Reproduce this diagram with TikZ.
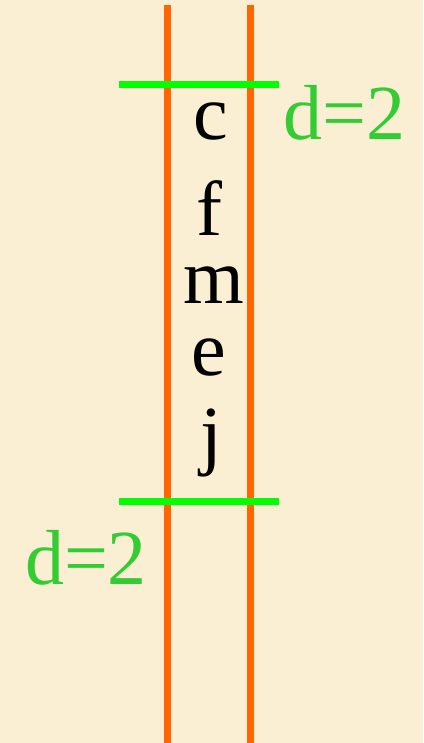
\documentclass[tikz,border=0pt]{standalone}
\usepackage{fontspec}
\setmainfont{Liberation Serif}
\usepackage{tikz}
\definecolor{paper}{RGB}{250, 239, 210}
\definecolor{rail}{RGB}{255, 102, 0}
\definecolor{cut}{RGB}{0, 255, 0}
\definecolor{cutlabel}{RGB}{51, 204, 51}

\begin{document}
\begin{tikzpicture}[x=1pt, y=-1pt,
    letter/.style={anchor=base, inner sep=0pt, font=\fontsize{78}{78}\selectfont},
    dlabel/.style={letter, text=cutlabel},
    railline/.style={rail, line width=7pt},
    cutline/.style={cut, line width=7pt}]
      \fill[paper] (0, 0) rectangle (423, 743);
      \useasboundingbox (0, 0) rectangle (423, 743);

      \coordinate (railLtop) at (167, 5);
      \coordinate (railLbot) at (167, 743);
      \coordinate (railRtop) at (250, 5);
      \coordinate (railRbot) at (250, 743);
      \draw[railline] (railLtop) -- (railLbot);
      \draw[railline] (railRtop) -- (railRbot);

      \coordinate (topL) at (119, 85);
      \coordinate (topR) at (279, 85);
      \coordinate (botL) at (119, 501);
      \coordinate (botR) at (279, 501);
      \draw[cutline] (topL) -- (topR);
      \draw[cutline] (botL) -- (botR);

      \node[letter] (c) at (211, 140) {c};
      \node[letter] (f) at (209, 235) {f};
      \node[letter] (m) at (214, 303) {m};
      \node[letter] (e) at (209, 375) {e};
      \node[letter] (j) at (211, 460) {j};

      \node[dlabel] (dtop) at (344, 140) {d=2};
      \node[dlabel] (dbot) at (86, 584) {d=2};
    \end{tikzpicture}
\end{document}
